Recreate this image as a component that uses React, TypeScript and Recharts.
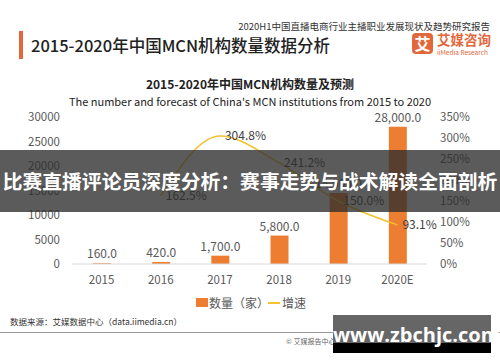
import React from "react";
import { ComposedChart, Bar, Line, XAxis, YAxis, LabelList } from "recharts";

const years = ["2015", "2016", "2017", "2018", "2019", "2020E"];
const counts = [160, 420, 1700, 5800, 14500, 28000];
const growth = [null, 162.5, 304.8, 241.2, 150.0, 93.1];
const countTicks = [0, 5000, 10000, 15000, 20000, 25000, 30000];
const growthTicks = [0, 50, 100, 150, 200, 250, 300, 350];

const data = years.map((y, i) => ({ year: y, count: counts[i], growth: growth[i] }));

const FONT = "'Noto Sans CJK SC', 'Noto Sans', sans-serif";
const ORANGE = "#ED7D31";
const YELLOW = "#F2C230";
const TICK = { fontSize: 11.5, fill: "#595959", fontFamily: FONT };

export default function App() {
  return (
    <div style={{ position: "absolute", left: 0, top: 0, width: 500, height: 362, background: "#fff", fontFamily: FONT, overflow: "hidden" }}>
      {/* header */}
      <div style={{ position: "absolute", left: 19, top: 31, width: 4, height: 28, background: "#E2683C" }} />
      <div style={{ position: "absolute", left: 31, top: 31, fontSize: 16.5, fontWeight: 500, color: "#222", whiteSpace: "nowrap", lineHeight: "28px" }}>
        2015-2020年中国MCN机构数量数据分析
      </div>
      <div style={{ position: "absolute", right: 10, top: 19, fontSize: 9.5, color: "#333", whiteSpace: "nowrap" }}>
        2020H1中国直播电商行业主播职业发展现状及趋势研究报告
      </div>
      <div style={{ position: "absolute", left: 412, top: 33, width: 21, height: 21, background: "#E2683C", borderRadius: 4, color: "#fff", fontSize: 16, fontWeight: 700, textAlign: "center", lineHeight: "21px" }}>艾</div>
      <div style={{ position: "absolute", left: 437, top: 30, fontSize: 13.5, fontWeight: 700, color: "#E2683C", whiteSpace: "nowrap", lineHeight: "18px" }}>艾媒咨询</div>
      <div style={{ position: "absolute", left: 437, top: 47, fontSize: 6.5, color: "#E2683C", whiteSpace: "nowrap" }}>iiMedia Research</div>

      <div style={{ position: "absolute", left: 0, width: 500, top: 75, textAlign: "center", fontSize: 12, fontWeight: 700, color: "#222" }}>
        2015-2020年中国MCN机构数量及预测
      </div>
      <div style={{ position: "absolute", left: 0, width: 500, top: 93, textAlign: "center", fontSize: 11, color: "#222" }}>
        The number and forecast of China's MCN institutions from 2015 to 2020
      </div>

      <div style={{ position: "absolute", left: 0, top: 0 }}>
        <ComposedChart width={500} height={362} data={data} margin={{ top: 117, right: 0, bottom: 68, left: 0 }}>
          <XAxis dataKey="year" tick={TICK} tickLine={false} axisLine={{ stroke: "#D9D9D9" }} tickMargin={6} height={30} interval={0} />
          <YAxis yAxisId="l" domain={[0, 30000]} ticks={countTicks} tick={TICK} tickLine={false} axisLine={false} width={72} tickMargin={6} interval={0} />
          <YAxis yAxisId="r" orientation="right" domain={[0, 350]} ticks={growthTicks} tick={TICK} tickLine={false} axisLine={false} width={73} tickMargin={7} interval={0} tickFormatter={(v: number) => `${v}%`} />
          <Bar yAxisId="l" dataKey="count" fill={ORANGE} barSize={18} isAnimationActive={false}>
            <LabelList dataKey="count" position="top" style={{ fontSize: 12, fill: "#595959", fontFamily: FONT }} formatter={(v: any) => Number(v).toLocaleString("en-US", { minimumFractionDigits: 1, maximumFractionDigits: 1 })} />
          </Bar>
          <Line yAxisId="r" dataKey="growth" type="monotone" stroke={YELLOW} strokeWidth={1.5} dot={false} connectNulls={false} isAnimationActive={false}>
            <LabelList dataKey="growth" position="right" style={{ fontSize: 12, fill: "#404040", fontFamily: FONT }} formatter={(v: any) => (v == null ? "" : `${Number(v).toFixed(1)}%`)} />
          </Line>
        </ComposedChart>
      </div>

      {/* legend */}
      <div style={{ position: "absolute", left: 196, top: 298, width: 12, height: 9, background: ORANGE }} />
      <div style={{ position: "absolute", left: 209, top: 294, fontSize: 12, color: "#595959", whiteSpace: "nowrap" }}>数量（家）</div>
      <div style={{ position: "absolute", left: 268, top: 302, width: 12, height: 2, background: YELLOW }} />
      <div style={{ position: "absolute", left: 282, top: 294, fontSize: 12, color: "#595959", whiteSpace: "nowrap" }}>增速</div>

      {/* source */}
      <div style={{ position: "absolute", left: 10, top: 315, fontSize: 8.5, color: "#333", whiteSpace: "nowrap" }}>数据来源：艾媒数据中心（data.iimedia.cn）</div>
      <div style={{ position: "absolute", left: 0, top: 332, width: 500, height: 1, background: "#999" }} />
      <div style={{ position: "absolute", left: 286, top: 336, fontSize: 7, color: "#666", whiteSpace: "nowrap" }}>© 艾媒报告中心</div>

      {/* overlays */}
      <div style={{ position: "absolute", left: 0, top: 150, width: 500, height: 62, background: "rgba(45,45,45,0.78)" }} />
      <div style={{ position: "absolute", left: 0, top: 150, width: 500, height: 62, lineHeight: "62px", textAlign: "center", color: "#fff", fontSize: 19.8, fontWeight: 700, whiteSpace: "nowrap" }}>
        比赛直播评论员深度分析：赛事走势与战术解读全面剖析
      </div>
      <div style={{ position: "absolute", left: 333, top: 315, width: 158, height: 28, background: "#666" }} />
      <div style={{ position: "absolute", left: 333, top: 343, width: 158, height: 10, background: "#000" }} />
      <div style={{ position: "absolute", left: 333, top: 315, width: 158, height: 38, lineHeight: "40px", textAlign: "center", color: "#fff", fontSize: 20, fontWeight: 700, fontFamily: "'Open Sans', sans-serif", whiteSpace: "nowrap" }}>
        www.zbchjc.com
      </div>
    </div>
  );
}
